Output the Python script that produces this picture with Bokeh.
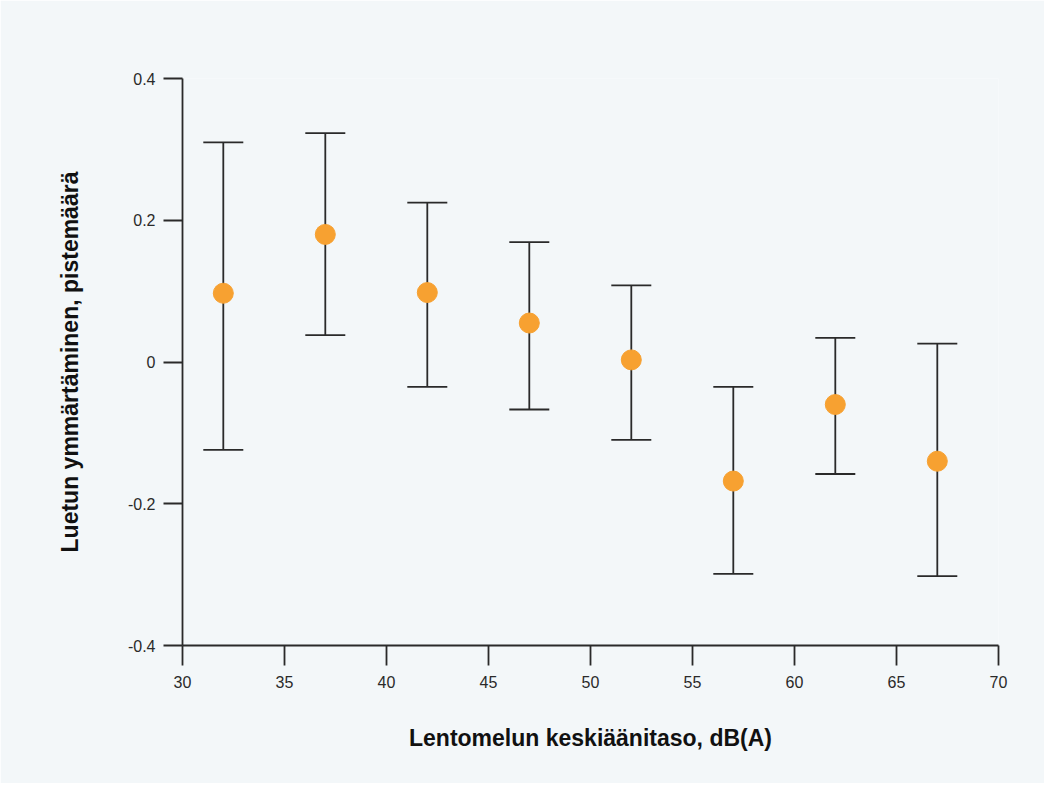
from bokeh.plotting import figure
from bokeh.models import ColumnDataSource, Whisker, TeeHead, FixedTicker, Range1d
from bokeh.embed import file_html
from bokeh.resources import INLINE

noise_level = [32, 37, 42, 47, 52, 57, 62, 67]
score_mean = [0.097, 0.180, 0.098, 0.055, 0.003, -0.168, -0.060, -0.140]
score_upper = [0.310, 0.323, 0.225, 0.169, 0.108, -0.035, 0.034, 0.026]
score_lower = [-0.124, 0.038, -0.035, -0.067, -0.110, -0.299, -0.158, -0.302]

x_ticks = [30, 35, 40, 45, 50, 55, 60, 65, 70]
y_ticks = [-0.4, -0.2, 0, 0.2, 0.4]
y_tick_labels = {-0.4: "-0.4", -0.2: "-0.2", 0: "0", 0.2: "0.2", 0.4: "0.4"}

BG = "#f3f7f9"
INK = "#2a2a2a"
FONT = "Liberation Sans"

src = ColumnDataSource(dict(x=noise_level, y=score_mean, upper=score_upper, lower=score_lower))

p = figure(width=1044, height=783, output_backend="svg", toolbar_location=None,
           x_range=Range1d(30, 70), y_range=Range1d(-0.4, 0.4),
           min_border_left=182, min_border_right=46, min_border_top=78, min_border_bottom=138)
p.background_fill_color = BG
p.border_fill_color = BG
p.outline_line_color = None
p.grid.visible = False

w = Whisker(source=src, base="x", upper="upper", lower="lower",
            line_color=INK, line_width=1.8,
            upper_head=TeeHead(size=40, line_color=INK, line_width=1.8),
            lower_head=TeeHead(size=40, line_color=INK, line_width=1.8))
p.add_layout(w)
p.scatter("x", "y", source=src, size=20, fill_color="#f7a131", line_color="#f7a131")

p.xaxis.ticker = FixedTicker(ticks=x_ticks)
p.yaxis.ticker = FixedTicker(ticks=y_ticks)
p.yaxis.major_label_overrides = y_tick_labels
for ax in (p.xaxis[0], p.yaxis[0]):
    ax.axis_line_color = INK
    ax.axis_line_width = 1.8
    ax.major_tick_line_color = INK
    ax.major_tick_line_width = 1.8
    ax.major_tick_in = 0
    ax.minor_tick_line_color = None
    ax.major_label_text_font = FONT
    ax.major_label_text_font_size = "16px"
    ax.major_label_text_color = INK
    ax.axis_label_text_font = FONT
    ax.axis_label_text_font_size = "23px"
    ax.axis_label_text_font_style = "bold"
    ax.axis_label_text_color = "#111111"

p.xaxis.major_tick_out = 20
p.yaxis.major_tick_out = 19
p.xaxis.major_label_standoff = 10
p.yaxis.major_label_standoff = 8
p.xaxis.axis_label = "Lentomelun keskiäänitaso, dB(A)"
p.yaxis.axis_label = "Luetun ymmärtäminen, pistemäärä"
p.xaxis.axis_label_standoff = 34
p.yaxis.axis_label_standoff = 42

open("out.html", "w").write(file_html(p, INLINE))
